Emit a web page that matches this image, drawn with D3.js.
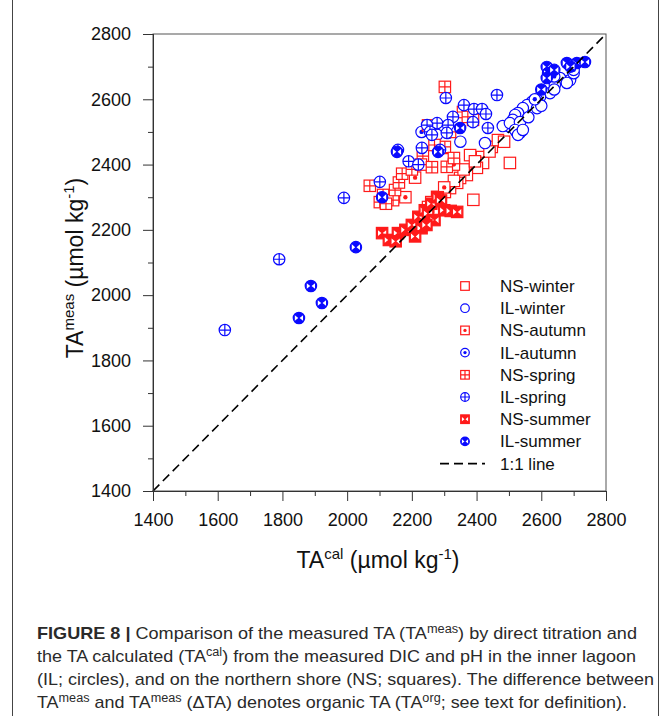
<!DOCTYPE html>
<html>
<head>
<meta charset="utf-8">
<script src="https://cdn.jsdelivr.net/npm/d3@7"></script>
<style>
  body { margin: 0; background: #fff; }
  text { font-family: "Liberation Sans", Arial, sans-serif; }
</style>
</head>
<body>
<div id="chart"></div>
<script>
// axis ticks
const majorTicks = [1400, 1600, 1800, 2000, 2200, 2400, 2600, 2800];
const minorTicks = [1500, 1700, 1900, 2100, 2300, 2500, 2700];

// series: [TAcal, TAmeas]
const nsWinter = [[2503,2405],[2380,2429],[2417,2423],[2447,2454],[2466,2475],[2420,2405],[2401,2390],[2370,2368],[2349,2359],[2340,2344],[2318,2328],[2302,2316],[2278,2301],[2390,2292],[2485,2470],[2330,2350],[2260,2285],[2360,2385],[2440,2440],[2395,2410]];
const ilWinter = [[2426,2466],[2534,2497],[2503,2516],[2312,2497],[2278,2491],[2481,2518],[2525,2497],[2689,2659],[2658,2665],[2679,2650],[2642,2644],[2605,2622],[2627,2619],[2596,2607],[2587,2598],[2571,2592],[2556,2582],[2543,2573],[2587,2573],[2528,2558],[2519,2552],[2512,2537],[2503,2527],[2534,2530],[2519,2506],[2528,2491],[2543,2506],[2700,2680],[2640,2630],[2560,2545],[2600,2580],[2350,2470]];
const nsAutumn = [[2250,2270],[2210,2360],[2300,2330],[2330,2400],[2180,2300]];
const ilAutumn = [[2640,2670],[2700,2690],[2580,2600],[2230,2500]];
const nsSpring = [[2302,2638],[2358,2561],[2389,2537],[2373,2546],[2318,2500],[2293,2451],[2234,2426],[2302,2454],[2308,2393],[2070,2335],[2111,2307],[2101,2285],[2142,2291],[2148,2322],[2160,2345],[2170,2372],[2200,2385],[2228,2400],[2262,2392],[2120,2280],[2250,2520],[2330,2420],[2270,2460]];
const ilSpring = [[1622,1893],[1790,2110],[1990,2298],[2101,2347],[2305,2604],[2463,2613],[2361,2582],[2392,2570],[2417,2570],[2429,2555],[2327,2546],[2278,2527],[2247,2521],[2256,2500],[2262,2491],[2231,2451],[2157,2445],[2312,2521],[2308,2497],[2287,2445],[2435,2512],[2389,2530],[2190,2410],[2220,2400]];
const nsSummer = [[2108,2190],[2129,2169],[2157,2190],[2180,2200],[2200,2215],[2220,2240],[2240,2260],[2230,2205],[2260,2280],[2280,2300],[2300,2260],[2320,2258],[2340,2255],[2250,2250],[2270,2230],[2210,2180],[2290,2290],[2150,2165],[2245,2215]];
const ilSummer = [[1888,2028],[1922,1976],[1851,1930],[2027,2147],[2108,2300],[2154,2439],[2281,2439],[2349,2512],[2617,2699],[2621,2680],[2679,2711],[2710,2711],[2735,2714],[2617,2665],[2690,2700],[2640,2690],[2600,2630]];

const seriesNames = ["NS-winter", "IL-winter", "NS-autumn", "IL-autumn", "NS-spring", "IL-spring", "NS-summer", "IL-summer"];
const seriesData = [nsWinter, ilWinter, nsAutumn, ilAutumn, nsSpring, ilSpring, nsSummer, ilSummer];

const RED = "#ff1a1a", BLUE = "#0a0aff";
const styles = [
    { shape: "sq", deco: "none", color: RED },
    { shape: "ci", deco: "none", color: BLUE },
    { shape: "sq", deco: "dot", color: RED },
    { shape: "ci", deco: "dot", color: BLUE },
    { shape: "sq", deco: "plus", color: RED },
    { shape: "ci", deco: "plus", color: BLUE },
    { shape: "sq", deco: "hour", color: RED },
    { shape: "ci", deco: "hour", color: BLUE }
];

const W = 670, H = 716;
const svg = d3.select("#chart").append("svg").attr("width", W).attr("height", H);

// outer figure box
svg.append("rect").attr("x", 12.5).attr("y", -10).attr("width", 646).attr("height", 740)
    .attr("fill", "none").attr("stroke", "#444").attr("stroke-width", 1);

const x = d3.scaleLinear().domain([1400, 2800]).range([153, 606]);
const y = d3.scaleLinear().domain([1400, 2800]).range([491, 34]);

// frame (top / right)
svg.append("rect").attr("x", 153).attr("y", 34).attr("width", 453).attr("height", 457)
    .attr("fill", "none").attr("stroke", "#555").attr("stroke-width", 1);

// draw a marker into group g, half size h
function marker(g, st, h) {
    let c = st.color;
    if (st.shape == "sq") {
        g.append("rect").attr("x", -h).attr("y", -h).attr("width", 2 * h).attr("height", 2 * h)
            .attr("fill", st.deco == "hour" ? c : "#fff").attr("stroke", c).attr("stroke-width", 1.2);
    } else {
        g.append("circle").attr("r", h)
            .attr("fill", st.deco == "hour" ? c : "#fff").attr("stroke", c).attr("stroke-width", 1.2);
    }
    if (st.deco == "dot") {
        g.append("circle").attr("r", h * 0.38).attr("fill", c);
    } else if (st.deco == "plus") {
        g.append("path").attr("d", `M${-h},0H${h}M0,${-h}V${h}`).attr("stroke", c).attr("stroke-width", 1.2);
    } else if (st.deco == "hour") {
        let a = h * 0.72, b = h * 0.5;
        g.append("path")
            .attr("d", `M${-a},${-b}L${-h * 0.12},0L${-a},${b}ZM${a},${-b}L${h * 0.12},0L${a},${b}Z`)
            .attr("fill", "#fff");
    }
}

// points
seriesData.forEach((data, i) => {
    svg.append("g").selectAll("g")
        .data(data)
        .enter()
        .append("g")
        .attr("transform", d => `translate(${x(d[0])},${y(d[1])})`)
        .each(function () { marker(d3.select(this), styles[i], 5.7); });
});

// 1:1 line
svg.append("line")
    .attr("x1", x(1400)).attr("y1", y(1400)).attr("x2", x(2800)).attr("y2", y(2800))
    .attr("stroke", "#000").attr("stroke-width", 1.6).attr("stroke-dasharray", "9,5");

// axes
const xAxis = svg.append("g").attr("transform", "translate(0,491)");
xAxis.call(d3.axisBottom(x).tickValues(minorTicks).tickSize(5).tickFormat(""));
xAxis.append("g").call(d3.axisBottom(x).tickValues(majorTicks).tickSize(10).tickPadding(12).tickFormat(d3.format("d")));
const yAxis = svg.append("g").attr("transform", "translate(153,0)");
yAxis.call(d3.axisLeft(y).tickValues(minorTicks).tickSize(5).tickFormat(""));
yAxis.append("g").call(d3.axisLeft(y).tickValues(majorTicks).tickSize(10).tickPadding(12).tickFormat(d3.format("d")));

svg.selectAll(".domain").attr("stroke", "#333");
svg.selectAll(".tick line").attr("stroke", "#333");
svg.selectAll(".tick text").attr("font-size", 18).attr("fill", "#111")
    .attr("font-family", "Liberation Sans, Arial, sans-serif");

// axis titles
const xt = svg.append("text").attr("x", 378).attr("y", 568).attr("text-anchor", "middle")
    .attr("font-size", 23).attr("fill", "#111");
xt.append("tspan").text("TA");
xt.append("tspan").attr("dy", -9).attr("font-size", 15).text("cal");
xt.append("tspan").attr("dy", 9).text(" (µmol kg");
xt.append("tspan").attr("dy", -9).attr("font-size", 15).text("-1");
xt.append("tspan").attr("dy", 9).text(")");

const yt = svg.append("text").attr("transform", "translate(83,268) rotate(-90)").attr("text-anchor", "middle")
    .attr("font-size", 23).attr("fill", "#111");
yt.append("tspan").text("TA");
yt.append("tspan").attr("dy", -9).attr("font-size", 15).text("meas");
yt.append("tspan").attr("dy", 9).text(" (µmol kg");
yt.append("tspan").attr("dy", -9).attr("font-size", 15).text("-1");
yt.append("tspan").attr("dy", 9).text(")");

// legend
const legend = svg.append("g");
seriesNames.forEach((name, i) => {
    let ly = 286 + i * 22.2;
    marker(legend.append("g").attr("transform", `translate(465,${ly})`), styles[i], 4.3);
    legend.append("text").attr("x", 500).attr("y", ly + 6).attr("font-size", 17).attr("fill", "#111").text(name);
});
let lineY = 286 + 8 * 22.2;
legend.append("line").attr("x1", 440).attr("x2", 485).attr("y1", lineY).attr("y2", lineY)
    .attr("stroke", "#000").attr("stroke-width", 1.6).attr("stroke-dasharray", "9,5");
legend.append("text").attr("x", 500).attr("y", lineY + 6).attr("font-size", 17).attr("fill", "#111").text("1:1 line");

// caption
const capLines = [
    [["b", "FIGURE 8 |"], ["", " Comparison of the measured TA (TA"], ["s", "meas"], ["", ") by direct titration and"]],
    [["", "the TA calculated (TA"], ["s", "cal"], ["", ") from the measured DIC and pH in the inner lagoon"]],
    [["", "(IL; circles), and on the northern shore (NS; squares). The difference between"]],
    [["", "TA"], ["s", "meas"], ["", " and TA"], ["s", "meas"], ["", " (ΔTA) denotes organic TA (TA"], ["s", "org"], ["", "; see text for definition)."]]
];
const capWidths = [600, 599, 617, 590];
capLines.forEach((parts, i) => {
    let t = svg.append("text").attr("x", 37).attr("y", 639 + i * 23)
        .attr("font-size", 17).attr("fill", "#2a2a2a")
        .attr("textLength", capWidths[i]).attr("lengthAdjust", "spacingAndGlyphs");
    let up = false;
    parts.forEach(p => {
        let s = t.append("tspan").text(p[1]);
        if (p[0] == "b") s.attr("font-weight", "bold");
        if (p[0] == "s") { s.attr("dy", -6).attr("font-size", 12); up = true; }
        else if (up) { s.attr("dy", 6); up = false; }
    });
});
</script>
</body>
</html>
